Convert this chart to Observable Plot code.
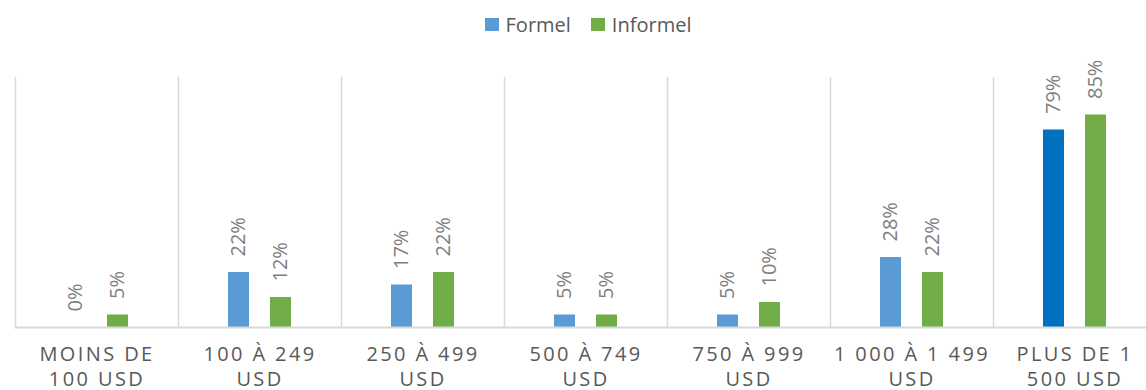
<!DOCTYPE html>
<html>
<head>
<meta charset="utf-8">
<script src="https://cdn.jsdelivr.net/npm/d3@7"></script>
<script src="https://cdn.jsdelivr.net/npm/@observablehq/plot@0.6"></script>
<style>
  html, body { margin: 0; padding: 0; background: #fff; }
  body { width: 1146px; height: 390px; overflow: hidden; font-family: "Open Sans", sans-serif; }
  #legend { height: 50px; display: flex; justify-content: center; align-items: flex-start; transform: translateX(15px); }
  #legend .item { display: flex; align-items: center; margin: 0 10px; font-size: 20px; color: #595959; margin-top: 11px; }
  #legend .sw { width: 14px; height: 13px; margin-right: 7px; }
  #chart { width: 1146px; height: 340px; overflow: hidden; }
  #chart svg { max-width: none !important; }
  g[aria-label="fx-axis tick label"] text { letter-spacing: 2.4px; }
</style>
</head>
<body>
<div id="legend"></div>
<div id="chart"></div>
<script>
const categories = ["MOINS DE\n100 USD", "100 À 249\nUSD", "250 À 499\nUSD", "500 À 749\nUSD", "750 À 999\nUSD", "1 000 À 1 499\nUSD", "PLUS DE 1\n500 USD"];
const series = ["Formel", "Informel"];
const formel = [0, 22, 17, 5, 5, 28, 79];
const informel = [5, 12, 22, 5, 10, 22, 85];

const colors = {Formel: "#5B9BD5", Informel: "#70AD47"};
const highlight = "#0070C0";

const data = [];
categories.forEach((c, i) => {
  data.push({category: c, series: "Formel", value: formel[i]});
  data.push({category: c, series: "Informel", value: informel[i]});
});
const lastCat = categories[categories.length - 1];
const fillOf = d => d.series === "Formel" && d.category === lastCat ? highlight : colors[d.series];

const legend = document.getElementById("legend");
series.forEach(s => {
  const it = document.createElement("div");
  it.className = "item";
  it.innerHTML = `<span class="sw" style="background:${colors[s]}"></span><span>${s}</span>`;
  legend.appendChild(it);
});

const chart = Plot.plot({
  width: 1158,
  height: 340,
  marginLeft: 13,
  marginRight: 0,
  marginTop: 27,
  marginBottom: 63,
  style: {fontFamily: "Open Sans", background: "white"},
  fx: {domain: categories, padding: 0, axis: null},
  x: {domain: series, paddingInner: 0.49, paddingOuter: 1.145, axis: null},
  y: {domain: [0, 100], axis: null},
  marks: [
    Plot.frame({anchor: "left", stroke: "#d9d9d9", strokeWidth: 1.5}),
    Plot.barY(data, {fx: "category", x: "series", y: "value", fill: fillOf}),
    Plot.ruleY([0], {stroke: "#d9d9d9", strokeWidth: 2}),
    Plot.text(data, {fx: "category", x: "series", y: "value", text: d => d.value + "%",
      rotate: -90, textAnchor: "start", lineAnchor: "middle", dy: -16,
      fill: "#7f7f7f", fontSize: 20}),
    Plot.axisFx({anchor: "bottom", tickSize: 0, tickPadding: 16, label: null,
      fontSize: 20, fill: "#595959", lineHeight: 1.25})
  ]
});
document.getElementById("chart").appendChild(chart);
</script>
</body>
</html>
